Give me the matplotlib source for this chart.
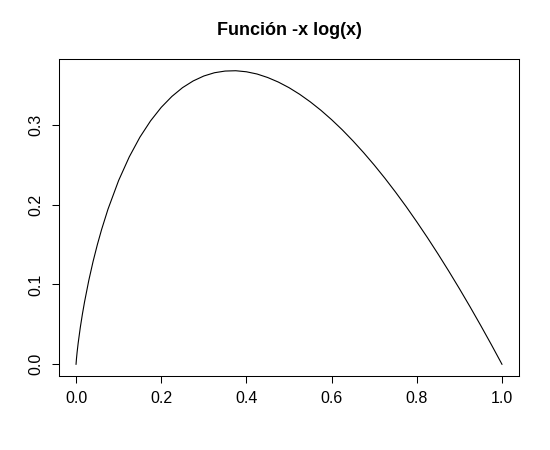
import matplotlib

matplotlib.use("Agg")
import matplotlib.pyplot as plt

# points
x_vals = [0.0, 0.001, 0.0025, 0.005, 0.01, 0.015, 0.02, 0.03, 0.04, 0.05, 0.06, 0.075,
          0.1, 0.125, 0.15, 0.175, 0.2, 0.225, 0.25, 0.275, 0.3, 0.325, 0.35, 0.375,
          0.4, 0.425, 0.45, 0.475, 0.5, 0.525, 0.55, 0.575, 0.6, 0.625, 0.65, 0.675,
          0.7, 0.725, 0.75, 0.775, 0.8, 0.825, 0.85, 0.875, 0.9, 0.925, 0.95, 0.975, 1.0]
y_vals = [0.0, 0.0069, 0.0150, 0.0265, 0.0461, 0.0630, 0.0782, 0.1052, 0.1288, 0.1498, 0.1688, 0.1943,
          0.2303, 0.2599, 0.2846, 0.3050, 0.3219, 0.3356, 0.3466, 0.3550, 0.3612, 0.3653, 0.3674, 0.3678,
          0.3665, 0.3637, 0.3593, 0.3536, 0.3466, 0.3383, 0.3288, 0.3182, 0.3065, 0.2938, 0.2800, 0.2653,
          0.2497, 0.2332, 0.2158, 0.1976, 0.1785, 0.1587, 0.1381, 0.1168, 0.0948, 0.0721, 0.0487, 0.0247, 0.0]
x_ticks = [0.0, 0.2, 0.4, 0.6, 0.8, 1.0]
y_ticks = [0.0, 0.1, 0.2, 0.3]
title = "Función -x log(x)"

plt.rcParams["font.family"] = ["Liberation Sans", "DejaVu Sans"]

fig = plt.figure(figsize=(5.5, 4.5), dpi=100)
ax = fig.add_axes([59 / 550, 74 / 450, 460 / 550, 317 / 450])
ax.plot(x_vals, y_vals, color="black", linewidth=0.8)

ymax = max(y_vals)
ax.set_xlim(-0.04, 1.04)
ax.set_ylim(-0.04 * ymax, 1.04 * ymax)

ax.set_xticks(x_ticks)
ax.set_xticklabels([f"{t:.1f}" for t in x_ticks])
ax.set_yticks(y_ticks)
ax.set_yticklabels([f"{t:.1f}" for t in y_ticks], rotation=90, va="center")
ax.tick_params(direction="out", length=5, width=0.75, labelsize=11.5, pad=6)
for s in ax.spines.values():
    s.set_linewidth(0.75)

ax.set_title(title, fontsize=13, fontweight="bold", pad=17)

fig.savefig("out.png", dpi=100)
